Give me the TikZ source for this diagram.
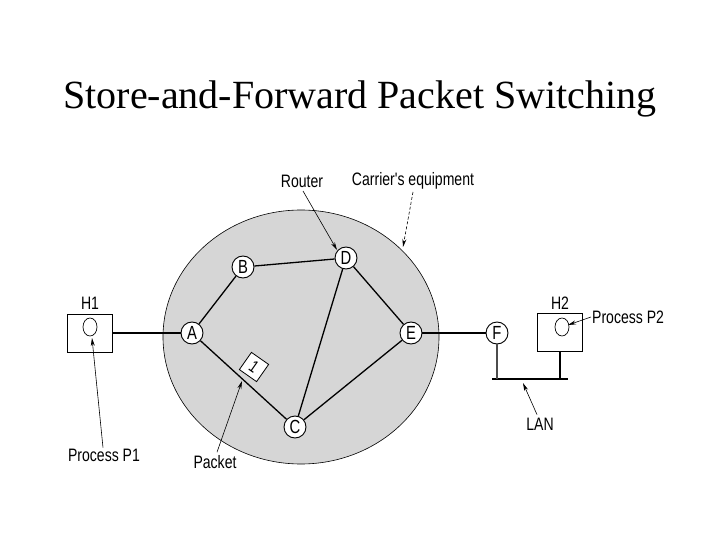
\documentclass[tikz,border=0pt]{standalone}
\usepackage{fontspec}
\setmainfont{Liberation Serif}
\newfontfamily\lblfont[FakeStretch=0.78]{Liberation Sans}
\usetikzlibrary{shapes.geometric, arrows.meta}

\begin{document}
\begin{tikzpicture}[x=1pt,y=-1pt,
  router/.style={circle, draw, line width=0.9pt, fill=white, minimum size=22pt, inner sep=0pt, font=\lblfont\fontsize{19}{19}\selectfont},
  lbl/.style={inner sep=1pt, font=\lblfont\fontsize{18}{18}\selectfont},
  hostbox/.style={draw, line width=0.6pt, fill=white, minimum width=45pt, minimum height=38pt, inner sep=0pt},
  proc/.style={ellipse, draw, line width=0.7pt, minimum width=14pt, minimum height=18pt, inner sep=0pt},
  link/.style={line width=1.3pt},
  pointer/.style={line width=0.6pt, -{Stealth[length=8pt,width=4pt]}}]
\useasboundingbox (0,0) rectangle (720,540);
\node[anchor=base, font=\fontsize{40}{40}\selectfont] (title) at (360.0000,109.0000) {Store-and-Forward Packet Switching};
\draw[line width=0.6pt, fill=black!16] (301.0000,337.0000) ellipse (138 and 127);
\node[router] (A) at (192.0000,333.0000) {A};
\node[router] (B) at (243.0000,267.0000) {B};
\node[router] (D) at (346.0000,258.0000) {D};
\node[router] (E) at (411.0000,333.0000) {E};
\node[router] (C) at (295.0000,427.0000) {C};
\node[router] (F) at (497.0000,333.0000) {F};
\node[hostbox] (H1) at (89.5000,333.0000) {};
\node[proc] (P1) at (90.0000,327.0000) {};
\node[hostbox] (H2) at (560.0000,332.5000) {};
\node[proc] (P2) at (562.0000,327.0000) {};
\node[lbl] (H1lbl) at (90.0000,303.0000) {H1};
\node[lbl] (H2lbl) at (560.0000,303.0000) {H2};
\coordinate (lanL) at (492.0000,379.0000);
\coordinate (lanR) at (568.0000,379.0000);
\draw[link] (H1) -- (A);
\draw[link] (A) -- (B);
\draw[link] (B) -- (D);
\draw[link] (D) -- (E);
\draw[link] (D) -- (C);
\draw[link] (A) -- (C);
\draw[link] (C) -- (E);
\draw[link] (E) -- (F);
\draw[link] (lanL) -- (lanR);
\draw[line width=1.3pt, black!70] (F) -- (F |- lanL);
\draw[line width=1.3pt] (H2) -- (H2 |- lanL);
\node[draw, line width=0.8pt, fill=white, rotate=-35, minimum size=21pt, inner sep=0pt, font=\lblfont\fontsize{17}{17}\selectfont] (pkt) at (254.0000,367.0000) {1};
\node[lbl] (routerlbl) at (302.0000,181.0000) {Router};
\node[lbl] (carrierlbl) at (413.0000,181.0000) {Carrier's equipment};
\node[lbl] (p1lbl) at (104.0000,455.0000) {Process P1};
\node[lbl] (pktlbl) at (215.0000,462.0000) {Packet};
\node[lbl] (lanlbl) at (540.0000,424.0000) {LAN};
\node[lbl, anchor=west] (p2lbl) at (591.0000,317.0000) {Process P2};
\coordinate (routertip) at (337.0000,250.0000);
\coordinate (carriertip) at (403.0000,247.0000);
\coordinate (p1tip) at (92.0000,338.0000);
\coordinate (pkttip) at (242.0000,381.0000);
\coordinate (lantip) at (523.0000,383.0000);
\coordinate (p2tip) at (568.0000,325.0000);
\draw[pointer] (303.0000,191.0000) -- (routertip);
\draw[pointer, dash pattern=on 3pt off 2pt] (413.0000,192.0000) -- (carriertip);
\draw[pointer] ([xshift=-1pt]p1lbl.north) -- (p1tip);
\draw[pointer] ([xshift=2pt,yshift=2pt]pktlbl.north) -- (pkttip);
\draw[pointer] ([xshift=-3pt,yshift=2pt]lanlbl.north) -- (lantip);
\draw[pointer] (p2lbl.west) -- (p2tip);
\end{tikzpicture}
\end{document}
